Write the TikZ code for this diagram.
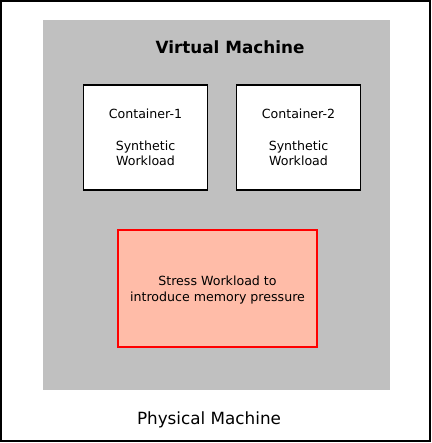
\documentclass[tikz,border=0pt]{standalone}
\usepackage{fontspec}
\setmainfont{DejaVu Sans}
\definecolor{vmgray}{HTML}{C0C0C0}
\definecolor{stressfill}{HTML}{FFBCA8}
\definecolor{stressline}{HTML}{FF0000}
\begin{document}
\begin{tikzpicture}[x=1pt,y=-1pt,
  small/.style={font=\fontsize{12.6}{15}\selectfont, inner sep=0pt, anchor=base},
  big/.style={font=\fontsize{16.8}{20}\selectfont, inner sep=0pt, anchor=base},
  cbox/.style={draw=black, line width=1.6pt, fill=white},
]
\useasboundingbox (0,0) rectangle (431,443);
\draw[line width=2pt] (1,1) rectangle (430,441);
\node[big] (pm) at (209,424) {Physical Machine};
\fill[vmgray] (43,20) rectangle (390,390);
\node[big, font=\fontsize{16.8}{20}\selectfont\bfseries] (vm) at (230,54) {Virtual Machine};
\draw[cbox] (83.5,85) rectangle (207.5,190);
\node[small] (c1) at (145.5,118.3) {Container-1};
\node[small] (c1a) at (145.5,150.7) {Synthetic};
\node[small] (c1b) at (145.5,166) {Workload};
\draw[cbox] (236.5,85) rectangle (360.5,190);
\node[small] (c2) at (298.5,118.3) {Container-2};
\node[small] (c2a) at (298.5,150.7) {Synthetic};
\node[small] (c2b) at (298.5,166) {Workload};
\draw[draw=stressline, fill=stressfill, line width=1.6pt] (118,230) rectangle (317,347);
\node[small] (s1) at (217.5,285) {Stress Workload to};
\node[small] (s2) at (217.5,301) {introduce memory pressure};
\end{tikzpicture}
\end{document}
